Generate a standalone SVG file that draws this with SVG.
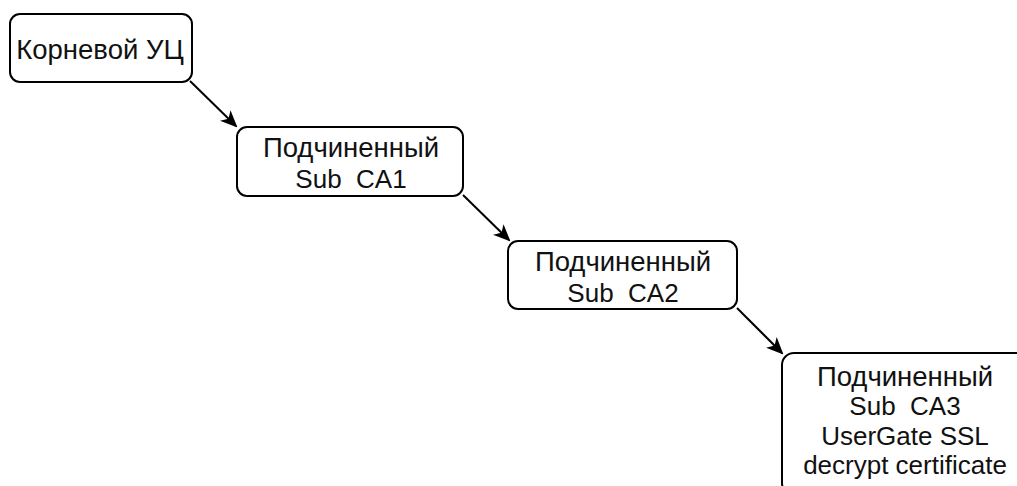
<svg xmlns="http://www.w3.org/2000/svg" width="1017" height="486" viewBox="0 0 1017 486">
<style>
.n{fill:#fff;stroke:#000;stroke-width:2}
.t{font-family:"Liberation Sans",Arial,sans-serif;font-size:27.5px;fill:#111;text-anchor:middle}
.l{font-size:26px}
.e{stroke:#000;stroke-width:2;fill:none}
</style>
<defs>
<marker id="ah" markerWidth="17" markerHeight="17" refX="15" refY="8.5" orient="auto" markerUnits="userSpaceOnUse" viewBox="0 0 17 17">
<path d="M0,1 L17,8.5 L0,16 L4.5,8.5 Z" fill="#000"/>
</marker>
</defs>
<rect width="1017" height="486" fill="#fff"/>
<g id="edges">
<path class="e" d="M190,81 L236,126" marker-end="url(#ah)"/>
<path class="e" d="M463,195 L509,240" marker-end="url(#ah)"/>
<path class="e" d="M737,308 L782,353" marker-end="url(#ah)"/>
</g>
<g id="node1">
<rect class="n" x="10" y="14" width="182" height="68" rx="10"/>
<text class="t" x="100" y="59">Корневой УЦ</text>
</g>
<g id="node2">
<rect class="n" x="237" y="127" width="226" height="69" rx="10"/>
<text class="t" x="351" y="157">Подчиненный</text>
<text class="t l" x="351" y="188" xml:space="preserve">Sub  CA1</text>
</g>
<g id="node3">
<rect class="n" x="508" y="241" width="229" height="68" rx="10"/>
<text class="t" x="623" y="271">Подчиненный</text>
<text class="t l" x="623" y="302" xml:space="preserve">Sub  CA2</text>
</g>
<g id="node4">
<rect class="n" x="782" y="353" width="246" height="142" rx="12"/>
<text class="t" x="905" y="386">Подчиненный</text>
<text class="t l" x="905" y="415" xml:space="preserve">Sub  CA3</text>
<text class="t l" x="905" y="445">UserGate SSL</text>
<text class="t l" x="905" y="474">decrypt certificate</text>
</g>
</svg>
